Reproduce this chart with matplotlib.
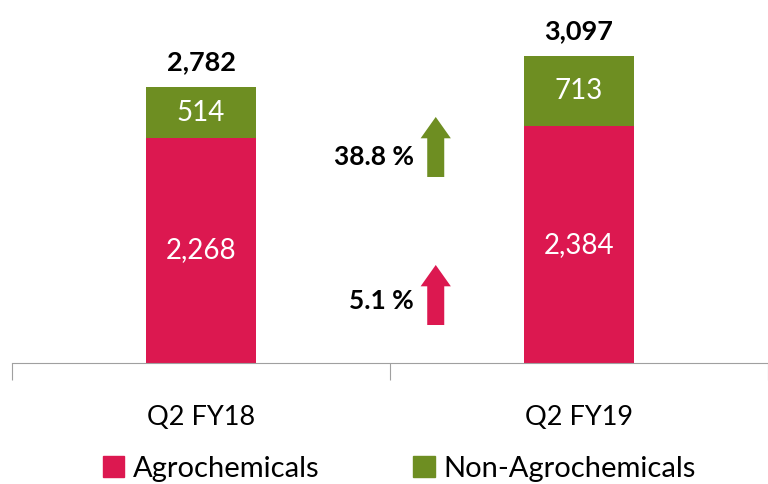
import matplotlib.pyplot as plt
from matplotlib.patches import Patch

# data
quarters = ["Q2 FY18", "Q2 FY19"]
agro = [2268, 2384]
non_agro = [514, 713]
growth_labels = ["5.1 %", "38.8 %"]

red = "#DC1850"
green = "#6E8E22"
plt.rcParams["font.family"] = ["Lato", "DejaVu Sans"]

fig = plt.figure(figsize=(7.68, 4.84), dpi=100)
ax = fig.add_axes([12 / 768, 121 / 484, 1 - 12 / 768, 363 / 484])

x = list(range(len(quarters)))
w = 0.29
ax.bar(x, agro, w, color=red, label="Agrochemicals")
ax.bar(x, non_agro, w, bottom=agro, color=green, label="Non-Agrochemicals")

for i in x:
    ax.text(i, agro[i] / 2, f"{agro[i]:,}", ha="center", va="center",
            color="white", fontsize=20)
    ax.text(i, agro[i] + non_agro[i] / 2, f"{non_agro[i]:,}", ha="center",
            va="center", color="white", fontsize=20)
    total = agro[i] + non_agro[i]
    ax.text(i, total + 130, f"{total:,}", ha="center", va="bottom",
            fontsize=19.5, fontweight="bold")

# growth arrows between the bars
ax_x = 0.621
arrows = [(383, red, 625), (1875, green, 2077)]
for (y0, col, ty), lab in zip(arrows, growth_labels):
    ax.arrow(ax_x, y0, 0, 605, width=0.045, head_width=0.08,
             head_length=215, length_includes_head=True, color=col, lw=0)
    ax.text(0.563, ty, lab, ha="right", va="center", fontsize=19,
            fontweight="bold")

ax.set_xlim(-0.5, 1.5 - 2 / 379)
ax.set_ylim(0, 3659)
ax.set_xticks([-0.5, 0.5, 1.5], minor=False)
ax.set_xticklabels([])
ax.set_xticks(x, minor=True)
ax.set_xticklabels(quarters, minor=True, fontsize=19.5)
ax.tick_params(axis="x", which="major", length=12, color="#A0A0A0")
ax.tick_params(axis="x", which="minor", length=0, pad=30)
ax.set_yticks([])
for s in ["top", "right", "left"]:
    ax.spines[s].set_visible(False)
ax.spines["bottom"].set_color("#A0A0A0")

handles = [Patch(color=red, label="Agrochemicals"),
           Patch(color=green, label="Non-Agrochemicals")]
fig.legend(handles=handles, loc="lower center", bbox_to_anchor=(0.52, -0.05),
           ncol=2, frameon=False, fontsize=21, handlelength=0.75,
           handleheight=0.75, handletextpad=0.3, columnspacing=3.2)

fig.savefig("out.png", dpi=100)
